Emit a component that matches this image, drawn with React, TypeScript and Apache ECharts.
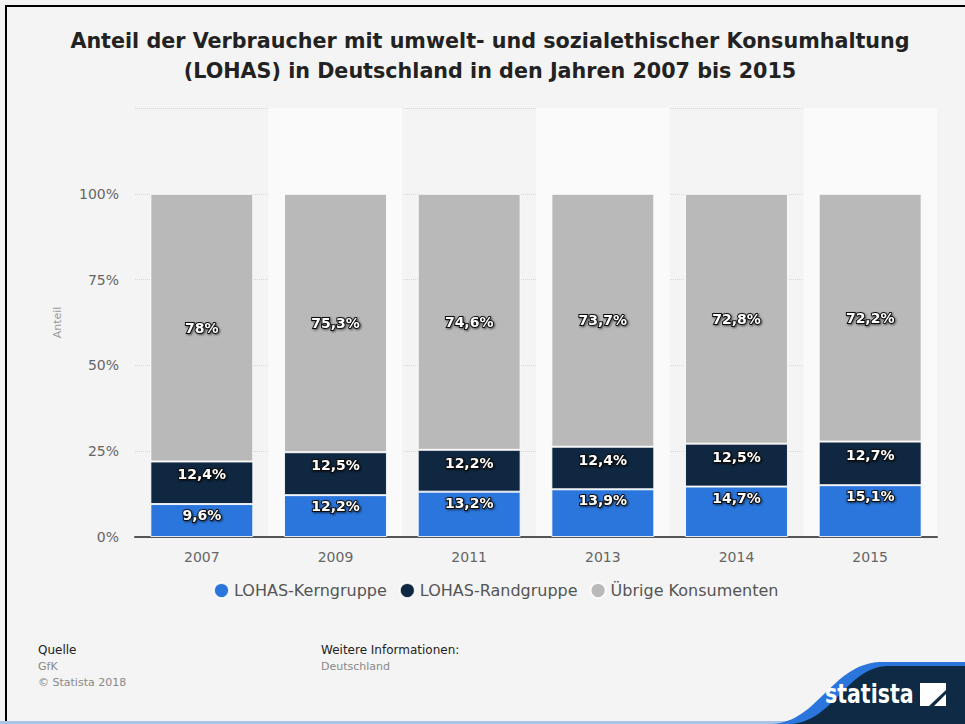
import React, { useEffect, useRef } from "react";
import * as echarts from "echarts";

const years = ["2007", "2009", "2011", "2013", "2014", "2015"];
const kerngruppe = [9.6, 12.2, 13.2, 13.9, 14.7, 15.1];
const randgruppe = [12.4, 12.5, 12.2, 12.4, 12.5, 12.7];
const uebrige = [78, 75.3, 74.6, 73.7, 72.8, 72.2];
const seriesNames = ["LOHAS-Kerngruppe", "LOHAS-Randgruppe", "Übrige Konsumenten"];
const colors = ["#2a76dc", "#0f2740", "#b9b9b9"];
const titleText =
  "Anteil der Verbraucher mit umwelt- und sozialethischer Konsumhaltung\n(LOHAS) in Deutschland in den Jahren 2007 bis 2015";

const fmt = (v: number) => String(v).replace(".", ",") + "%";

export default function App() {
  const ref = useRef<HTMLDivElement>(null);
  useEffect(() => {
    if (!ref.current) return;
    echarts.graphic.registerShape(
      "logoBlue",
      echarts.graphic.extendPath(
        "M 772 724 C 818 722 832 664 880 662 L 965 662 L 965 724 Z",
        {}
      )
    );
    echarts.graphic.registerShape(
      "logoDark",
      echarts.graphic.extendPath(
        "M 790 724 C 834 722 846 667 888 666 L 965 666 L 965 724 Z",
        {}
      )
    );
    const chart = echarts.init(ref.current, null, { renderer: "svg" });
    const font = "DejaVu Sans";
    const label = (pos: string, dist: number) => ({
      show: true,
      position: pos,
      distance: dist,
      formatter: (p: any) => fmt(p.value),
      color: "#fff",
      fontWeight: "bold",
      fontSize: 14,
      fontFamily: font,
      textBorderColor: "#111",
      textBorderWidth: 2,
      textShadowColor: "rgba(0,0,0,0.6)",
      textShadowBlur: 2,
      textShadowOffsetX: 1,
      textShadowOffsetY: 1,
    });
    const mk = (i: number, data: number[], pos: string, dist: number) => ({
      name: seriesNames[i],
      type: "bar",
      stack: "total",
      data,
      barWidth: "77%",
      itemStyle: {
        color: colors[i],
        borderColor: "rgba(255,255,255,0.85)",
        borderWidth: 1,
      },
      label: label(pos, dist),
    });
    chart.setOption({
      animation: false,
      backgroundColor: "#f4f4f4",
      textStyle: { fontFamily: font },
      grid: { left: 135, right: 28, top: 108, bottom: 187 },
      legend: {
        top: 577,
        left: 208,
        icon: "circle",
        itemWidth: 15,
        itemHeight: 15,
        itemGap: 12,
        textStyle: { fontSize: 16, color: "#555", fontFamily: font },
        data: seriesNames,
      },
      xAxis: {
        type: "category",
        data: years,
        axisLine: { lineStyle: { color: "#555", width: 2 } },
        axisTick: { show: false },
        axisLabel: { color: "#666", fontSize: 14, margin: 13, fontFamily: font },
        splitArea: {
          show: true,
          areaStyle: { color: ["rgba(0,0,0,0)", "#fafafa"] },
        },
      },
      yAxis: {
        type: "value",
        min: 0,
        max: 125,
        interval: 25,
        name: "Anteil",
        nameLocation: "middle",
        nameGap: 72,
        nameRotate: 90,
        nameTextStyle: { color: "#999", fontSize: 11, fontFamily: font },
        axisLine: { show: false },
        axisTick: { show: false },
        axisLabel: {
          color: "#666",
          fontSize: 14,
          margin: 16,
          fontFamily: font,
          formatter: (v: number) => (v === 125 ? "" : v + "%"),
        },
        splitLine: { lineStyle: { color: "#d8d8d8", type: "dotted" } },
      },
      series: [
        mk(0, kerngruppe, "insideTop", 4),
        mk(1, randgruppe, "insideTop", 6),
        mk(2, uebrige, "inside", 5),
      ],
      graphic: [
        {
          type: "text",
          x: 490,
          y: 26,
          style: {
            text: titleText,
            fontSize: 20.7,
            fontWeight: "bold",
            fill: "#222",
            fontFamily: font,
            lineHeight: 30,
            textAlign: "center",
            textVerticalAlign: "top",
          },
        },
        { type: "rect", shape: { x: 5, y: 5, width: 960, height: 2 }, style: { fill: "#000" } },
        { type: "rect", shape: { x: 5, y: 5, width: 2, height: 719 }, style: { fill: "#000" } },
        { type: "rect", shape: { x: 0, y: 721, width: 965, height: 3 }, style: { fill: "#a9c4e6" } },
        { type: "text", left: 38, top: 644, style: { text: "Quelle", fontSize: 12, fill: "#222", fontFamily: font } },
        { type: "text", left: 38, top: 661, style: { text: "GfK", fontSize: 11, fill: "#888", fontFamily: font } },
        { type: "text", left: 38, top: 677, style: { text: "© Statista 2018", fontSize: 11, fill: "#888", fontFamily: font } },
        { type: "text", left: 321, top: 644, style: { text: "Weitere Informationen:", fontSize: 12, fill: "#222", fontFamily: font } },
        { type: "text", left: 321, top: 661, style: { text: "Deutschland", fontSize: 11, fill: "#888", fontFamily: font } },
        { type: "logoBlue", style: { fill: "#2a76dc" } },
        { type: "logoDark", style: { fill: "#0e2a44" } },
        {
          type: "text",
          x: 825,
          y: 694,
          scaleX: 0.79,
          style: {
            text: "statista",
            fontSize: 26,
            fontWeight: "bold",
            fill: "#fff",
            fontFamily: font,
            textAlign: "left",
            textVerticalAlign: "middle",
          },
        },
        {
          type: "polygon",
          shape: { points: [[920, 683], [946, 683], [946, 690], [929, 706], [920, 706]] },
          style: { fill: "#fff" },
        },
        {
          type: "polygon",
          shape: { points: [[946, 694], [946, 706], [934, 706]] },
          style: { fill: "#fff" },
        },
      ],
    });
    return () => chart.dispose();
  }, []);
  return (
    <div
      ref={ref}
      style={{ position: "fixed", left: 0, top: 0, width: 965, height: 724 }}
    />
  );
}
